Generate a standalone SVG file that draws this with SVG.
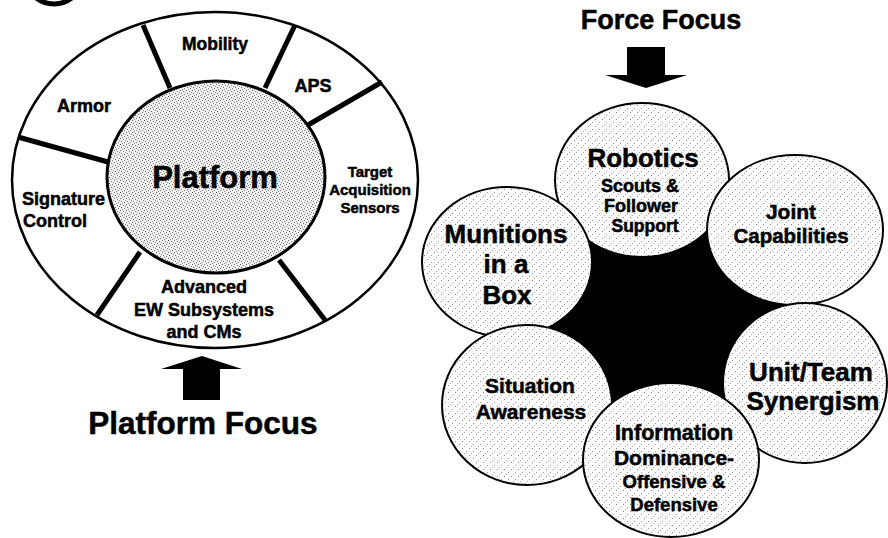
<svg xmlns="http://www.w3.org/2000/svg" width="888" height="538" viewBox="0 0 888 538">
<style>
.t{font-family:"Liberation Sans",Arial,sans-serif;font-weight:bold;fill:#000;stroke:#000;stroke-width:0.5;text-anchor:middle}
.ts{font-family:"Liberation Sans",Arial,sans-serif;font-weight:bold;fill:#000;stroke:#000;stroke-width:0.5;text-anchor:start}
.ring{fill:#fff;stroke:#000;stroke-width:2.5}
.hub{fill:url(#dense);stroke:#000;stroke-width:3}
.bub{fill:url(#stip);stroke:#000;stroke-width:2}
.spoke{stroke:#000;stroke-width:5;fill:none}
.arrow{fill:#000}
</style>
<defs>
<pattern id="stip" width="7" height="7" patternUnits="userSpaceOnUse">
<rect width="7" height="7" fill="#fcfcfc"/>
<rect x="0" y="0" width="1" height="1" fill="#888"/>
<rect x="4" y="3" width="1" height="1" fill="#999"/>
<rect x="2" y="5" width="1" height="1" fill="#aaa"/>
</pattern>
<pattern id="dense" width="6" height="6" patternUnits="userSpaceOnUse">
<rect width="6" height="6" fill="#f2f2f2"/>
<rect x="0" y="0" width="1" height="1" fill="#666"/>
<rect x="3" y="1" width="1" height="1" fill="#777"/>
<rect x="1" y="3" width="1" height="1" fill="#666"/>
<rect x="4" y="4" width="1" height="1" fill="#777"/>
<rect x="2" y="5" width="1" height="1" fill="#888"/>
<rect x="5" y="2" width="1" height="1" fill="#888"/>
</pattern>
</defs>
<rect width="888" height="538" fill="#fff"/>

<circle cx="54" cy="-25" r="29" fill="none" stroke="#000" stroke-width="5"/>

<g id="platform-ring">
<ellipse class="ring" cx="215" cy="180" rx="203" ry="168"/>
</g>
<g id="connectors">
<line class="spoke" x1="143" y1="25" x2="170" y2="88"/>
<line class="spoke" x1="295" y1="25" x2="265" y2="88"/>
<line class="spoke" x1="382" y1="82" x2="308" y2="125"/>
<line class="spoke" x1="18" y1="137" x2="108" y2="162"/>
<line class="spoke" x1="97" y1="315" x2="140" y2="252"/>
<line class="spoke" x1="325" y1="320" x2="279" y2="260"/>
</g>
<g id="platform">
<ellipse class="hub" cx="216" cy="177" rx="109" ry="96"/>
<text class="t" x="215" y="188" font-size="31">Platform</text>
</g>
<g id="mobility"><text class="t" x="215" y="50" font-size="17.5">Mobility</text></g>
<g id="aps"><text class="t" x="313" y="92" font-size="18">APS</text></g>
<g id="armor"><text class="t" x="84" y="112" font-size="18">Armor</text></g>
<g id="signature">
<text class="ts" x="22" y="205" font-size="18">Signature</text>
<text class="ts" x="23" y="227" font-size="18">Control</text>
</g>
<g id="target">
<text class="t" x="370" y="177" font-size="15">Target</text>
<text class="t" x="370" y="195" font-size="15">Acquisition</text>
<text class="t" x="370" y="213" font-size="15">Sensors</text>
</g>
<g id="ew">
<text class="t" x="204" y="293" font-size="18">Advanced</text>
<text class="t" x="204" y="316" font-size="18">EW Subsystems</text>
<text class="t" x="204" y="338" font-size="18">and CMs</text>
</g>
<g id="platform-focus">
<polygon class="arrow" points="202,356 242,369 220,369 220,400 183,400 183,369 161,369"/>
<text class="t" x="203" y="434" font-size="31.5">Platform Focus</text>
</g>

<g id="force-focus">
<text class="t" x="661" y="29" font-size="27">Force Focus</text>
<polygon class="arrow" points="627,47 665,47 665,75 687,75 646,88 605,75 627,75"/>
</g>

<g id="core">
<polygon fill="#000" points="642,180 795,230 805,383 671,460 527,405 507,262"/>
</g>
<g id="robotics">
<ellipse class="bub" cx="642" cy="180" rx="87" ry="77"/>
<text class="t" x="643" y="167" font-size="26">Robotics</text>
<text class="t" x="640" y="192" font-size="18">Scouts &amp;</text>
<text class="t" x="641" y="212" font-size="18">Follower</text>
<text class="t" x="645" y="232" font-size="17.5">Support</text>
</g>
<g id="joint">
<ellipse class="bub" cx="795" cy="230" rx="88" ry="75"/>
<text class="t" x="791" y="219" font-size="21">Joint</text>
<text class="t" x="791" y="243" font-size="20.5">Capabilities</text>
</g>
<g id="unit">
<ellipse class="bub" cx="805" cy="383" rx="82" ry="80"/>
<text class="t" x="811" y="381" font-size="26">Unit/Team</text>
<text class="t" x="813" y="410" font-size="26">Synergism</text>
</g>
<g id="munitions">
<ellipse class="bub" cx="507" cy="262" rx="85" ry="75"/>
<text class="t" x="506" y="243" font-size="26">Munitions</text>
<text class="t" x="506" y="273" font-size="26">in a</text>
<text class="t" x="507" y="304" font-size="26">Box</text>
</g>
<g id="situation">
<ellipse class="bub" cx="527" cy="405" rx="85" ry="80"/>
<text class="t" x="530" y="393" font-size="21">Situation</text>
<text class="t" x="531" y="419" font-size="21">Awareness</text>
</g>
<g id="information">
<ellipse class="bub" cx="671" cy="460" rx="88" ry="77"/>
<text class="t" x="674" y="440" font-size="21.5">Information</text>
<text class="t" x="674" y="465" font-size="21">Dominance-</text>
<text class="t" x="674" y="488" font-size="18.5">Offensive &amp;</text>
<text class="t" x="674" y="511" font-size="18.5">Defensive</text>
</g>
</svg>
